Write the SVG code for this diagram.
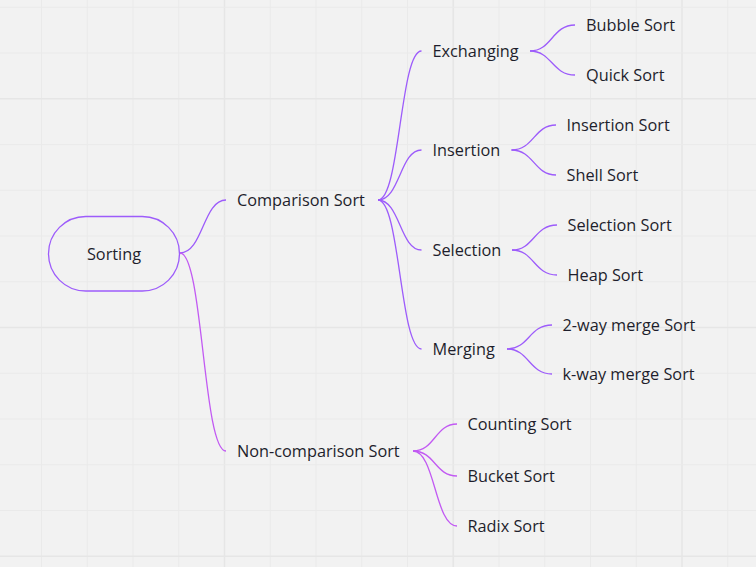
<svg xmlns="http://www.w3.org/2000/svg" width="756" height="567" viewBox="0 0 756 567">
<defs>
<style>
.g{stroke:#eaeaea;stroke-width:1}
.gm{stroke:#e6e6e6;stroke-width:1.6}
.t{font-family:"Open Sans","Noto Sans","DejaVu Sans",sans-serif;font-size:16.3px;fill:#1e1e2c}
.c1{fill:none;stroke:#9d5cfb;stroke-width:1.3}
.c2{fill:none;stroke:#c25af3;stroke-width:1.3}
</style>
</defs>
<rect width="756" height="567" fill="#f2f2f2"/>
<g id="grid">
<path class="g" d="M41.5 0V567M87.25 0V567M133 0V567M178.75 0V567M270.25 0V567M316 0V567M361.75 0V567M407.5 0V567M499 0V567M544.75 0V567M590.5 0V567M636.25 0V567M727.75 0V567"/>
<path class="gm" d="M224.5 0V567M453.25 0V567M682 0V567"/>
<path class="g" d="M0 7.3H756M0 53H756M0 144.6H756M0 190.3H756M0 236H756M0 281.8H756M0 373.3H756M0 419H756M0 464.8H756M0 510.5H756"/>
<path class="gm" d="M0 98.8H756M0 327.5H756M0 556.3H756"/>
</g>
<g id="connectors">
<path class="c1" d="M180 253C203 253 203 200 226 200"/>
<path class="c2" d="M180 253C203 253 203 451 226 451"/>
<path class="c1" d="M378 200C400 200 400 51 421.5 51"/>
<path class="c1" d="M378 200C400 200 400 150 421.5 150"/>
<path class="c1" d="M378 200C400 200 400 250 421.5 250"/>
<path class="c1" d="M378 200C400 200 400 349 421.5 349"/>
<path class="c1" d="M530 51C552 51 552 25 575 25"/>
<path class="c1" d="M530 51C552 51 552 75 575 75"/>
<path class="c1" d="M511.5 150C534 150 534 125 556 125"/>
<path class="c1" d="M511.5 150C534 150 534 175 556 175"/>
<path class="c1" d="M512 250C534 250 534 225 557 225"/>
<path class="c1" d="M512 250C534 250 534 275 557 275"/>
<path class="c1" d="M507 349C529 349 529 325 552 325"/>
<path class="c1" d="M507 349C529 349 529 374 552 374"/>
<path class="c2" d="M413 451C435 451 435 424 457 424"/>
<path class="c2" d="M413 451C435 451 435 476 457 476"/>
<path class="c2" d="M413 451C435 451 435 526 457 526"/>
</g>
<g id="sorting">
<rect x="48.5" y="216.5" width="131" height="74.5" rx="37.25" fill="none" stroke="#9d5cfb" stroke-width="1.3"/>
<text class="t" x="114" y="259.5" text-anchor="middle">Sorting</text>
</g>
<g id="comparison-sort"><text class="t" x="237" y="205.5">Comparison Sort</text></g>
<g id="non-comparison-sort"><text class="t" x="237" y="456.5">Non-comparison Sort</text></g>
<g id="exchanging"><text class="t" x="432.5" y="56.5">Exchanging</text></g>
<g id="insertion"><text class="t" x="432.5" y="155.5">Insertion</text></g>
<g id="selection"><text class="t" x="432.5" y="255.5">Selection</text></g>
<g id="merging"><text class="t" x="432.5" y="354.5">Merging</text></g>
<g id="bubble-sort"><text class="t" x="586" y="31">Bubble Sort</text></g>
<g id="quick-sort"><text class="t" x="586" y="81">Quick Sort</text></g>
<g id="insertion-sort"><text class="t" x="566.5" y="131">Insertion Sort</text></g>
<g id="shell-sort"><text class="t" x="566.5" y="180.5">Shell Sort</text></g>
<g id="selection-sort"><text class="t" x="567.5" y="230.5">Selection Sort</text></g>
<g id="heap-sort"><text class="t" x="567.5" y="280.5">Heap Sort</text></g>
<g id="two-way-merge-sort"><text class="t" x="562.5" y="330.5">2-way merge Sort</text></g>
<g id="k-way-merge-sort"><text class="t" x="562.5" y="380">k-way merge Sort</text></g>
<g id="counting-sort"><text class="t" x="467.5" y="429.5">Counting Sort</text></g>
<g id="bucket-sort"><text class="t" x="467.5" y="481.5">Bucket Sort</text></g>
<g id="radix-sort"><text class="t" x="467.5" y="531.5">Radix Sort</text></g>
</svg>
